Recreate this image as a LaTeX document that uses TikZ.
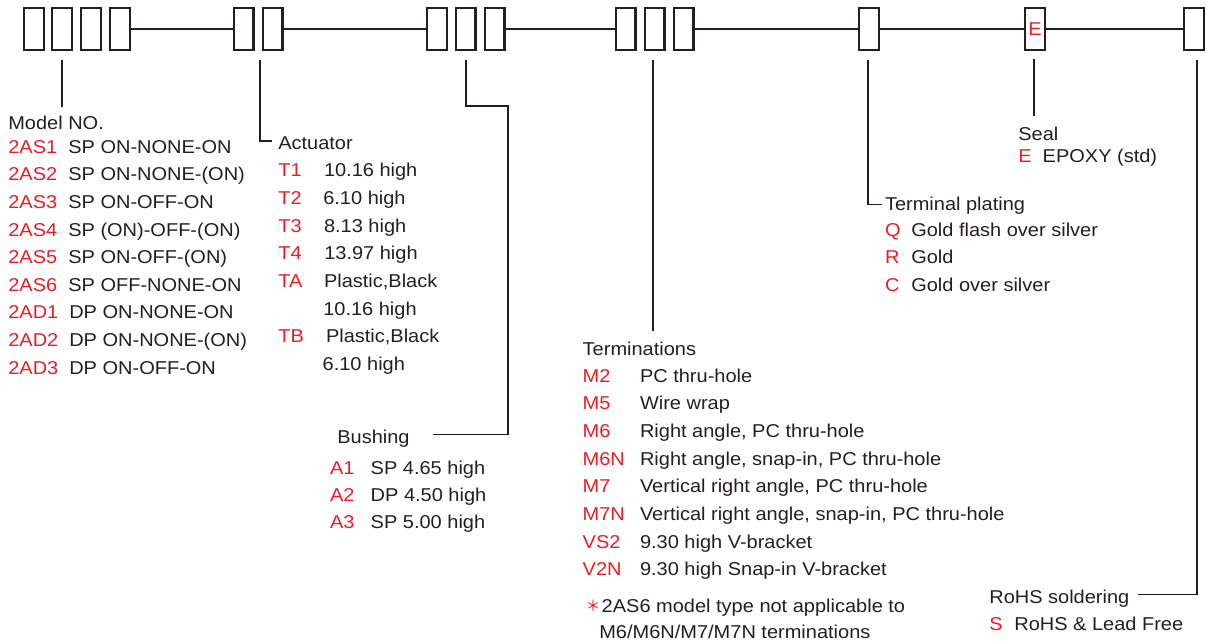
\documentclass[tikz,border=0pt]{standalone}
\usepackage{fontspec}
\setmainfont{Liberation Sans}[FakeStretch=1.075]
\newfontfamily\cjkfont{Noto Sans CJK SC}
\definecolor{ink}{HTML}{231F20}
\definecolor{codered}{HTML}{ED1C24}
\begin{document}
\begin{tikzpicture}[x=1pt,y=-1pt,
  slot/.style={draw=ink,line width=2.2pt,minimum width=19.8pt,minimum height=41.8pt,inner sep=0pt,outer sep=0pt},
  bus/.style={draw=ink,line width=2pt},
  lead/.style={draw=ink,line width=1.3pt},
  txt/.style={anchor=base west,inner sep=0pt,outer sep=0pt,text=ink,font=\fontsize{18.6}{20}\selectfont},
  code/.style={txt,text=codered}]
\useasboundingbox (0,0) rectangle (1206,642);
% ---- slots ----
\node[slot] (a1) at (34,29) {};
\node[slot] (a2) at (62,29) {};
\node[slot] (a3) at (91,29) {};
\node[slot] (a4) at (120,29) {};
\node[slot] (b1) at (243.5,29) {};
\node[slot] (b2) at (272.5,29) {};
\node[slot] (c1) at (437,29) {};
\node[slot] (c2) at (465.5,29) {};
\node[slot] (c3) at (494.5,29) {};
\node[slot] (d1) at (625.5,29) {};
\node[slot] (d2) at (654.5,29) {};
\node[slot] (d3) at (683.5,29) {};
\node[slot] (e1) at (869,29) {};
\node[slot,text=codered,font=\fontsize{18.6}{20}\selectfont] (f1) at (1035,29) {E};
\node[slot] (g1) at (1193.8,29) {};
\draw[bus] (a4.east) -- (b1.west);
\draw[bus] (b2.east) -- (c1.west);
\draw[bus] (c3.east) -- (d1.west);
\draw[bus] (d3.east) -- (e1.west);
\draw[bus] (e1.east) -- (f1.west);
\draw[bus] (f1.east) -- (g1.west);
% ---- leader lines ----
\coordinate (lm0) at (62,60);   \coordinate (lm1) at (62,107);
\coordinate (la0) at (260,60);  \coordinate (la1) at (260,141); \coordinate (la2) at (272,141);
\coordinate (lb0) at (466,60);  \coordinate (lb1) at (466,106); \coordinate (lb2) at (508,106);
\coordinate (lb3) at (508,434.5); \coordinate (lb4) at (433,434.5);
\coordinate (lt0) at (653,60);  \coordinate (lt1) at (653,331);
\coordinate (lp0) at (868,60);  \coordinate (lp1) at (868,204.5); \coordinate (lp2) at (882,204.5);
\coordinate (ls0) at (1034,59); \coordinate (ls1) at (1034,115.5);
\coordinate (lr0) at (1197,60); \coordinate (lr1) at (1197,594.5); \coordinate (lr2) at (1138,594.5);
\draw[lead] (lm0) -- (lm1);
\draw[lead] (la0) -- (la1) -- (la2);
\draw[lead] (lb0) -- (lb1) -- (lb2) -- (lb3) -- (lb4);
\draw[lead] (lt0) -- (lt1);
\draw[lead] (lp0) -- (lp1) -- (lp2);
\draw[lead] (ls0) -- (ls1);
\draw[lead] (lr0) -- (lr1) -- (lr2);
% ---- Model NO. ----
\node[txt] (model) at (8.3,129.3) {Model NO.};
\foreach \c/\d [count=\i from 0] in {2AS1/{SP ON-NONE-ON},2AS2/{SP ON-NONE-(ON)},2AS3/{SP ON-OFF-ON},2AS4/{SP (ON)-OFF-(ON)},2AS5/{SP ON-OFF-(ON)},2AS6/{SP OFF-NONE-ON}}{
  \node[code] (mc\i) at (8.3,153.3+27.6*\i) {\c};
  \node[txt] (md\i) at (68.3,153.3+27.6*\i) {\d};
}
\foreach \c/\d [count=\i from 6] in {2AD1/{DP ON-NONE-ON},2AD2/{DP ON-NONE-(ON)},2AD3/{DP ON-OFF-ON}}{
  \node[code] (mc\i) at (8.3,153.3+27.6*\i) {\c};
  \node[txt] (md\i) at (69.3,153.3+27.6*\i) {\d};
}
% ---- Actuator ----
\node[txt] (act) at (278.3,149.3) {Actuator};
\node[code] (ac1) at (278.3,176.7) {T1}; \node[txt] (ad1) at (324,176.7) {10.16 high};
\node[code] (ac2) at (278.3,204.4) {T2}; \node[txt] (ad2) at (323.3,204.4) {6.10 high};
\node[code] (ac3) at (278.3,232.1) {T3}; \node[txt] (ad3) at (324,232.1) {8.13 high};
\node[code] (ac4) at (278.3,259.8) {T4}; \node[txt] (ad4) at (324.3,259.8) {13.97 high};
\node[code] (ac5) at (278.3,287.5) {TA}; \node[txt] (ad5) at (324,287.5) {Plastic,Black};
\node[txt] (ad6) at (323.3,315.2) {10.16 high};
\node[code] (ac7) at (278.3,342.9) {TB}; \node[txt] (ad7) at (326,342.9) {Plastic,Black};
\node[txt] (ad8) at (322.7,370.6) {6.10 high};
% ---- Bushing ----
\node[txt] (bush) at (337.3,443.3) {Bushing};
\foreach \c/\d [count=\i from 0] in {A1/{SP 4.65 high},A2/{DP 4.50 high},A3/{SP 5.00 high}}{
  \node[code] (bc\i) at (330,474+27.3*\i) {\c};
  \node[txt] (bd\i) at (370.7,474+27.3*\i) {\d};
}
% ---- Terminations ----
\node[txt] (term) at (582.7,355) {Terminations};
\foreach \c/\d [count=\i from 0] in {M2/{PC thru-hole},M5/{Wire wrap},M6/{Right angle, PC thru-hole},M6N/{Right angle, snap-in, PC thru-hole},M7/{Vertical right angle, PC thru-hole},M7N/{Vertical right angle, snap-in, PC thru-hole},VS2/{9.30 high V-bracket},V2N/{9.30 high Snap-in V-bracket}}{
  \node[code] (tc\i) at (582.7,382+27.7*\i) {\c};
  \node[txt] (td\i) at (640,382+27.7*\i) {\d};
}
\node[code,font=\cjkfont\fontsize{15}{16}\selectfont] (star) at (585.5,611.5) {＊};
\node[txt] (note1) at (601.7,612.7) {2AS6 model type not applicable to};
\node[txt] (note2) at (599.3,638.3) {M6/M6N/M7/M7N terminations};
% ---- Seal ----
\node[txt] (seal) at (1018.3,140) {Seal};
\node[code] (sc) at (1018.3,162.7) {E};
\node[txt] (sd) at (1042.7,162.7) {EPOXY (std)};
% ---- Terminal plating ----
\node[txt] (plat) at (885,210) {Terminal plating};
\foreach \c/\d [count=\i from 0] in {Q/{Gold flash over silver},R/{Gold},C/{Gold over silver}}{
  \node[code] (pc\i) at (885,236+27.8*\i) {\c};
  \node[txt] (pd\i) at (911.3,236+27.8*\i) {\d};
}
% ---- RoHS ----
\node[txt] (rohs) at (989.3,603.3) {RoHS soldering};
\node[code] (rc) at (989.3,630.7) {S};
\node[txt] (rd) at (1014.3,630.7) {RoHS \& Lead Free};
\end{tikzpicture}
\end{document}
